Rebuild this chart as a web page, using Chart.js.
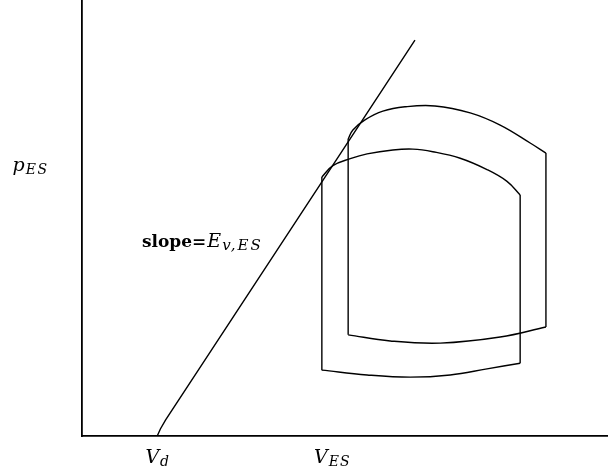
<!DOCTYPE html>
<html>
<head>
<meta charset="utf-8">
<script src="https://cdn.jsdelivr.net/npm/chart.js@4.4.1/dist/chart.umd.min.js"></script>
<style>
  html, body { margin: 0; padding: 0; background: #fff; }
  #wrap { width: 608px; height: 474px; }
</style>
</head>
<body>
<div id="wrap"><canvas id="pvChart" width="608" height="474"></canvas></div>
<script>
// ESPVR line (volume, pressure)
const espvrX = [14.3, 14.9, 15.9, 63.3];
const espvrY = [0, 1.6, 3.7, 90.8];

// loop 1 (right one): ejection arc on top, filling arc on bottom
const loopATopX = [50.6, 51.5, 53.8, 57.2, 61.4, 67.1, 73.8, 79.5, 85.2, 88.2];
const loopATopY = [68.1, 70.2, 72.5, 74.5, 75.5, 75.7, 74.1, 71.3, 67.2, 64.9];
const loopABottomX = [50.6, 58.6, 68.1, 79.5, 88.2];
const loopABottomY = [23.2, 21.8, 21.3, 22.7, 25.0];

// loop 2 (left one)
const loopBTopX = [45.6, 47.7, 51.0, 54.2, 59.1, 62.9, 66.7, 71.9, 77.0, 80.8, 83.3];
const loopBTopY = [59.4, 62.0, 63.6, 64.7, 65.6, 65.8, 65.2, 63.7, 61.1, 58.4, 55.3];
const loopBBottomX = [45.6, 54.2, 62.4, 70.0, 77.0, 83.3];
const loopBBottomY = [15.1, 14.0, 13.5, 14.0, 15.4, 16.7];

// axis labels
const xTickValues = [14.3, 47.5];
const xTickLabels = [['V', 'd'], ['V', 'ES']];
const yTickValues = [62.2];
const yTickLabels = [['p', 'ES']];

// slope annotation anchor (left edge, middle)
const slopeAt = { x: 11.4, y: 44.8 };

function pts(xs, ys) {
    return xs.map((x, i) => ({ x: x, y: ys[i] }));
}

function sides(topX, topY, botX, botY) {
    const n = topX.length - 1, m = botX.length - 1;
    return [
        pts([botX[0], topX[0]], [botY[0], topY[0]]),
        pts([topX[n], botX[m]], [topY[n], botY[m]])
    ];
}

function lineSet(data, tension) {
    return {
        data: data,
        showLine: true,
        borderColor: '#000',
        borderWidth: 1.4,
        pointRadius: 0,
        tension: tension,
        fill: false
    };
}

const datasets = [lineSet(pts(espvrX, espvrY), 0)];
[[loopATopX, loopATopY, loopABottomX, loopABottomY],
 [loopBTopX, loopBTopY, loopBBottomX, loopBBottomY]].forEach(l => {
    datasets.push(lineSet(pts(l[0], l[1]), 0.4));
    datasets.push(lineSet(pts(l[2], l[3]), 0.4));
    sides(l[0], l[1], l[2], l[3]).forEach(s => datasets.push(lineSet(s, 0)));
});

const SERIF = '"DejaVu Serif", "Liberation Serif", serif';
const MAIN = 19, SUB = 14;

// main symbol italic, subscript smaller and lowered
function drawSub(ctx, parts, x, y, spacing) {
    ctx.font = 'italic ' + MAIN + 'px ' + SERIF;
    const w1 = ctx.measureText(parts[0]).width;
    ctx.font = 'italic ' + SUB + 'px ' + SERIF;
    ctx.letterSpacing = spacing + 'px';
    const w2 = ctx.measureText(parts[1]).width;
    ctx.letterSpacing = '0px';
    const left = x - (w1 + w2) / 2;
    ctx.textBaseline = 'alphabetic';
    ctx.textAlign = 'left';
    ctx.font = 'italic ' + MAIN + 'px ' + SERIF;
    ctx.fillText(parts[0], left, y + 6);
    ctx.font = 'italic ' + SUB + 'px ' + SERIF;
    ctx.letterSpacing = spacing + 'px';
    ctx.fillText(parts[1], left + w1 + 1, y + 9);
    ctx.letterSpacing = '0px';
}

const labelPlugin = {
    id: 'texLabels',
    afterDraw(chart) {
        const ctx = chart.ctx;
        const xs = chart.scales.x, ys = chart.scales.y;
        ctx.save();
        ctx.fillStyle = '#000';
        xTickValues.forEach((v, i) => {
            drawSub(ctx, xTickLabels[i], xs.getPixelForValue(v), 457, 1);
        });
        yTickValues.forEach((v, i) => {
            drawSub(ctx, yTickLabels[i], 30, ys.getPixelForValue(v), 1.5);
        });
        // slope=E_{v,ES}
        const sx = xs.getPixelForValue(slopeAt.x), sy = ys.getPixelForValue(slopeAt.y);
        ctx.textAlign = 'left';
        ctx.textBaseline = 'alphabetic';
        ctx.font = 'bold 17px ' + SERIF;
        ctx.fillText('slope=', sx, sy + 6);
        const w = ctx.measureText('slope=').width;
        ctx.font = 'italic 19px ' + SERIF;
        ctx.fillText('E', sx + w + 1, sy + 6);
        const we = ctx.measureText('E').width;
        ctx.font = 'italic 15px ' + SERIF;
        ctx.letterSpacing = '2px';
        ctx.fillText('v,ES', sx + w + we + 2, sy + 9);
        ctx.letterSpacing = '0px';
        ctx.restore();
    }
};

new Chart(document.getElementById('pvChart').getContext('2d'), {
    type: 'scatter',
    data: { datasets: datasets },
    options: {
        responsive: false,
        animation: false,
        devicePixelRatio: 1,
        layout: { padding: 0 },
        plugins: { legend: { display: false }, tooltip: { enabled: false } },
        scales: {
            x: {
                type: 'linear', min: 0, max: 100,
                grid: { display: false },
                border: { display: true, color: '#000', width: 1.8 },
                ticks: { display: false },
                afterFit: s => { s.height = 38; }
            },
            y: {
                type: 'linear', min: 0, max: 100,
                grid: { display: false },
                border: { display: true, color: '#000', width: 1.8 },
                ticks: { display: false },
                afterFit: s => { s.width = 82; }
            }
        }
    },
    plugins: [labelPlugin]
});
</script>
</body>
</html>
